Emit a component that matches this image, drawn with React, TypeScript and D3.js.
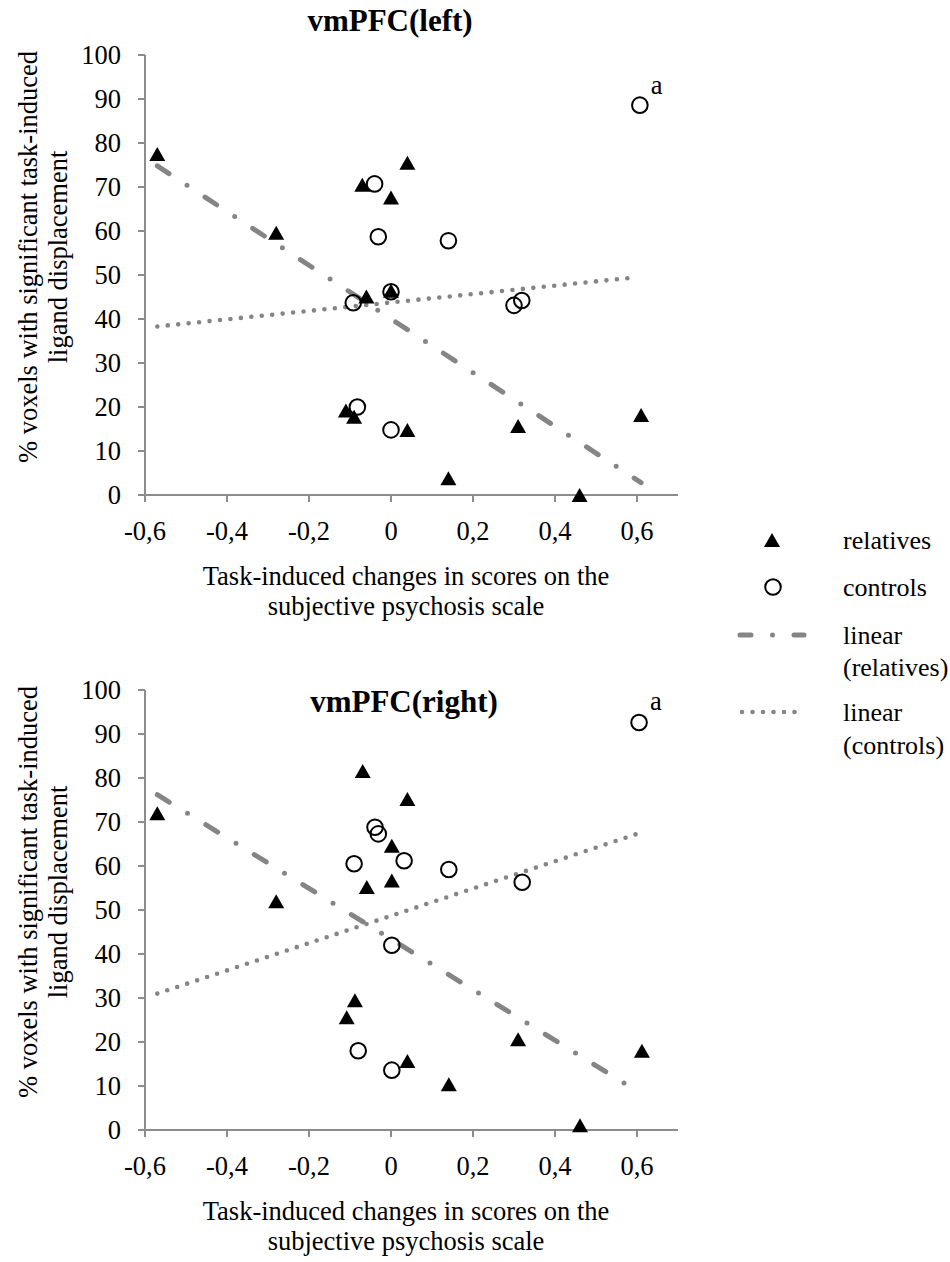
import React from 'react';
import * as d3 from 'd3';

// ---------- data ----------
const xTickValues = [-0.6, -0.4, -0.2, 0, 0.2, 0.4, 0.6];
const yTickValues = [0, 10, 20, 30, 40, 50, 60, 70, 80, 90, 100];

// vmPFC(left)
const leftRelativesX = [-0.57, -0.28, -0.07, 0.0, -0.06, 0.0, -0.11, -0.09, 0.04, 0.04, 0.14, 0.31, 0.46, 0.61];
const leftRelativesY = [77.5, 59.6, 70.5, 67.6, 45.1, 46.4, 19.2, 17.8, 75.5, 14.8, 3.8, 15.7, 0.0, 18.2];
const leftControlsX = [-0.04, -0.031, -0.092, 0.0, -0.082, 0.0, 0.14, 0.30, 0.319, 0.607];
const leftControlsY = [70.7, 58.7, 43.7, 46.2, 20.0, 14.8, 57.8, 43.1, 44.2, 88.6];
const leftRelativesTrendX = [-0.57, 0.61];
const leftRelativesTrendY = [74.8, 2.8];
const leftControlsTrendX = [-0.57, 0.6];
const leftControlsTrendY = [38.3, 49.5];

// vmPFC(right)
const rightRelativesX = [-0.57, -0.28, -0.069, 0.002, -0.059, 0.002, -0.088, -0.108, 0.04, 0.04, 0.141, 0.31, 0.461, 0.612];
const rightRelativesY = [72.0, 52.0, 81.6, 64.6, 55.2, 56.7, 29.5, 25.6, 75.2, 15.7, 10.4, 20.6, 1.1, 18.0];
const rightControlsX = [-0.039, -0.031, -0.09, 0.032, 0.002, -0.08, 0.002, 0.141, 0.32, 0.605];
const rightControlsY = [68.8, 67.3, 60.5, 61.2, 42.0, 18.0, 13.6, 59.2, 56.3, 92.6];
const rightRelativesTrendX = [-0.57, 0.61];
const rightRelativesTrendY = [76.2, 8.3];
const rightControlsTrendX = [-0.57, 0.61];
const rightControlsTrendY = [31.0, 67.6];

const legendLabels = ['relatives', 'controls', 'linear', '(relatives)', 'linear', '(controls)'];

// ---------- styling ----------
const FONT = '"Liberation Serif", "Times New Roman", serif';
const FS = 26.5;
const AXIS = '#8c8c8c';
const TREND = '#858585';
const DASHDOT = '14 21.5 0 21.5';
const DOTTED = '0 10.5';

const locale = d3.formatLocale({ decimal: ',', thousands: '.', grouping: [3], currency: ['', ''], minus: '-' });
const fmtX = locale.format('.1~f');

const tri = (cx: number, cy: number, w = 16, h = 14) =>
  `M${cx},${cy - h / 2}L${cx + w / 2},${cy + h / 2}L${cx - w / 2},${cy + h / 2}Z`;

type PanelProps = {
  title: string;
  titleX: number;
  titleY: number;
  off: number;
  relX: number[];
  relY: number[];
  conX: number[];
  conY: number[];
  relTX: number[];
  relTY: number[];
  conTX: number[];
  conTY: number[];
  aDy: number;
};

function Panel(p: PanelProps) {
  const x = d3.scaleLinear().domain([-0.6, 0.7]).range([145, 678]);
  const y = d3.scaleLinear().domain([0, 100]).range([495 + p.off, 55 + p.off]);
  const line = d3
    .line<[number, number]>()
    .x((d) => x(d[0]))
    .y((d) => y(d[1]));
  const relTrend: [number, number][] = p.relTX.map((v, i) => [v, p.relTY[i]]);
  const conTrend: [number, number][] = p.conTX.map((v, i) => [v, p.conTY[i]]);
  const x0 = x(-0.6);
  const y0 = y(0);
  const outIdx = d3.maxIndex(p.conY);
  const yMid = (y(0) + y(100)) / 2 - 18;
  return (
    <g>
      {/* axes */}
      <line x1={x0} x2={x0} y1={y(100)} y2={y0} stroke={AXIS} strokeWidth={2} />
      <line x1={x0 - 7} x2={x(0.7)} y1={y0} y2={y0} stroke={AXIS} strokeWidth={2} />
      {yTickValues.map((t) => (
        <g key={'yt' + t}>
          <line x1={x0 - 7} x2={x0} y1={y(t)} y2={y(t)} stroke={AXIS} strokeWidth={2} />
          <text x={121} y={y(t)} dy="0.35em" textAnchor="end" fontSize={FS} fontFamily={FONT} fill="#000">
            {t}
          </text>
        </g>
      ))}
      {xTickValues.map((t) => (
        <g key={'xt' + t}>
          <line x1={x(t)} x2={x(t)} y1={y0} y2={y0 + 7} stroke={AXIS} strokeWidth={2} />
          <text x={x(t)} y={y0 + 45} textAnchor="middle" fontSize={FS} fontFamily={FONT} fill="#000">
            {fmtX(t)}
          </text>
        </g>
      ))}
      {/* axis titles */}
      <text x={406} y={y0 + 90} textAnchor="middle" fontSize={FS} fontFamily={FONT}>
        Task-induced changes in scores on the
      </text>
      <text x={406} y={y0 + 120} textAnchor="middle" fontSize={FS} fontFamily={FONT}>
        subjective psychosis scale
      </text>
      <g transform={`translate(0,${yMid}) rotate(-90)`}>
        <text x={0} y={37} textAnchor="middle" fontSize={FS} fontFamily={FONT}>
          % voxels with significant task-induced
        </text>
        <text x={0} y={67} textAnchor="middle" fontSize={FS} fontFamily={FONT}>
          ligand displacement
        </text>
      </g>
      {/* title */}
      <text x={p.titleX} y={p.titleY} textAnchor="middle" fontSize={31} fontWeight="bold" fontFamily={FONT}>
        {p.title}
      </text>
      {/* trend lines */}
      <path d={line(relTrend) || ''} fill="none" stroke={TREND} strokeWidth={5} strokeLinecap="round" strokeDasharray={DASHDOT} />
      <path d={line(conTrend) || ''} fill="none" stroke={TREND} strokeWidth={4.6} strokeLinecap="round" strokeDasharray={DOTTED} />
      {/* markers */}
      {p.conX.map((v, i) => (
        <circle key={'c' + i} cx={x(v)} cy={y(p.conY[i])} r={7.8} fill="none" stroke="#000" strokeWidth={2} />
      ))}
      {p.relX.map((v, i) => (
        <path key={'r' + i} d={tri(x(v), y(p.relY[i]))} fill="#000" />
      ))}
      <text x={x(p.conX[outIdx]) + 11} y={y(p.conY[outIdx]) + p.aDy} fontSize={FS} fontFamily={FONT}>
        a
      </text>
    </g>
  );
}

export default function App() {
  return (
    <svg
      width={950}
      height={1262}
      viewBox="0 0 950 1262"
      style={{ position: 'absolute', left: 0, top: 0, background: '#fff' }}
    >
      <rect x={0} y={0} width={950} height={1262} fill="#fff" />
      <Panel
        title="vmPFC(left)"
        titleX={390}
        titleY={31}
        off={0}
        relX={leftRelativesX}
        relY={leftRelativesY}
        conX={leftControlsX}
        conY={leftControlsY}
        relTX={leftRelativesTrendX}
        relTY={leftRelativesTrendY}
        conTX={leftControlsTrendX}
        conTY={leftControlsTrendY}
        aDy={-11}
      />
      <Panel
        title="vmPFC(right)"
        titleX={404}
        titleY={712}
        off={635}
        relX={rightRelativesX}
        relY={rightRelativesY}
        conX={rightControlsX}
        conY={rightControlsY}
        relTX={rightRelativesTrendX}
        relTY={rightRelativesTrendY}
        conTX={rightControlsTrendX}
        conTY={rightControlsTrendY}
        aDy={-13}
      />
      {/* legend */}
      <g fontFamily={FONT} fontSize={26}>
        <path d={tri(772, 540)} fill="#000" />
        <text x={843} y={540} dy="0.35em">{legendLabels[0]}</text>
        <circle cx={773} cy={587} r={7.8} fill="none" stroke="#000" strokeWidth={2} />
        <text x={843} y={587} dy="0.35em">{legendLabels[1]}</text>
        <line x1={740} x2={804} y1={635} y2={635} stroke={TREND} strokeWidth={5} strokeLinecap="round" strokeDasharray="11 21.5 0 21.5" />
        <text x={843} y={635} dy="0.35em">{legendLabels[2]}</text>
        <text x={843} y={667} dy="0.35em">{legendLabels[3]}</text>
        <line x1={742} x2={805} y1={712} y2={712} stroke={TREND} strokeWidth={4.6} strokeLinecap="round" strokeDasharray={DOTTED} />
        <text x={843} y={712} dy="0.35em">{legendLabels[4]}</text>
        <text x={843} y={745} dy="0.35em">{legendLabels[5]}</text>
      </g>
    </svg>
  );
}
